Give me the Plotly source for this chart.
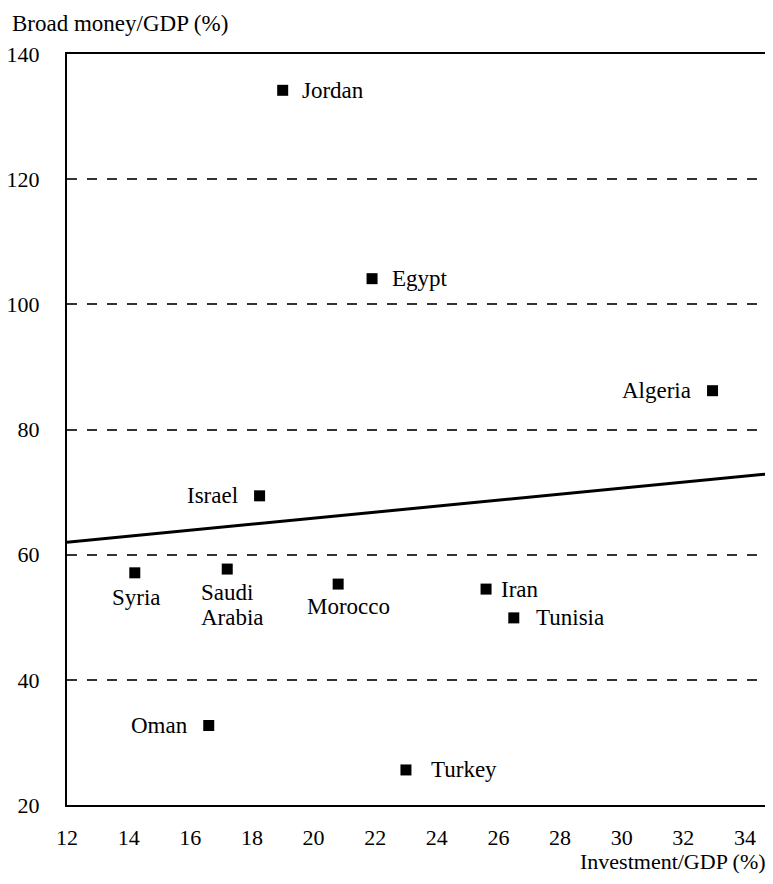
import plotly.graph_objects as go

# ---- data ----
countries = ["Jordan", "Egypt", "Algeria", "Israel", "Syria", "Saudi<br>Arabia",
             "Morocco", "Iran", "Tunisia", "Oman", "Turkey"]
investment_gdp = [19.0, 21.9, 32.95, 18.25, 14.2, 17.2, 20.8, 25.6, 26.5, 16.6, 23.0]
broad_money_gdp = [134.2, 104.1, 86.2, 69.4, 57.1, 57.7, 55.3, 54.5, 49.9, 32.7, 25.6]

fit_x = [12.0, 34.75]
fit_y = [62.0, 72.9]

x_ticks = [12, 14, 16, 18, 20, 22, 24, 26, 28, 30, 32, 34]
y_ticks = [20, 40, 60, 80, 100, 120, 140]

# ---- label placement (style only) ----
label_style = {
    "Jordan": dict(xanchor="left", xshift=18, yshift=0),
    "Egypt": dict(xanchor="left", xshift=19, yshift=0),
    "Algeria": dict(xanchor="right", xshift=-21, yshift=0),
    "Israel": dict(xanchor="right", xshift=-21, yshift=0),
    "Syria": dict(xanchor="center", xshift=2, yshift=-25),
    "Saudi<br>Arabia": dict(xanchor="left", xshift=-27, yshift=-23),
    "Morocco": dict(xanchor="center", xshift=10, yshift=-22),
    "Iran": dict(xanchor="left", xshift=14, yshift=0),
    "Tunisia": dict(xanchor="left", xshift=21, yshift=0),
    "Oman": dict(xanchor="right", xshift=-20, yshift=0),
    "Turkey": dict(xanchor="left", xshift=24, yshift=0),
}
LINE_GAP = 25

FONT = "Liberation Serif, Times New Roman, serif"
FS = 23
fig = go.Figure()

fig.add_trace(go.Scatter(
    x=fit_x, y=fit_y, mode="lines",
    line=dict(color="black", width=3), hoverinfo="skip", showlegend=False))

fig.add_trace(go.Scatter(
    x=investment_gdp, y=broad_money_gdp, mode="markers",
    marker=dict(symbol="square", size=11, color="black"),
    text=countries, showlegend=False))

for c, xv, yv in zip(countries, investment_gdp, broad_money_gdp):
    s = label_style[c]
    for i, line in enumerate(c.split("<br>")):
        fig.add_annotation(x=xv, y=yv, text=line, showarrow=False,
                           xanchor=s["xanchor"], yanchor="middle", align="left",
                           xshift=s["xshift"], yshift=s["yshift"] - i * LINE_GAP,
                           borderpad=0,
                           font=dict(family=FONT, size=FS, color="black"))

fig.add_annotation(xref="paper", yref="paper", x=0, xshift=-57, y=1.0, yshift=31,
                   xanchor="left", yanchor="middle", showarrow=False,
                   text="Broad money/GDP (%)",
                   font=dict(family=FONT, size=FS, color="black"))
fig.add_annotation(xref="paper", yref="paper", x=1.0, xshift=0, y=0, yshift=-56,
                   xanchor="right", yanchor="middle", showarrow=False,
                   text="Investment/GDP (%)",
                   font=dict(family=FONT, size=FS - 1, color="black"))

fig.update_layout(
    width=765, height=868,
    margin=dict(l=59, r=5, t=46, b=71),
    paper_bgcolor="white", plot_bgcolor="white",
    font=dict(family=FONT, size=FS, color="black"),
    showlegend=False,
)
fig.update_xaxes(
    range=[12, 34.75], tickvals=x_ticks, ticktext=[str(v) for v in x_ticks],
    showgrid=False, zeroline=False, automargin=False,
    showline=True, linecolor="black", linewidth=2, mirror=True,
    ticks="", ticklabelstandoff=12, tickfont=dict(size=22),
)
fig.update_yaxes(
    range=[20, 140], tickvals=y_ticks, ticktext=[str(v) for v in y_ticks],
    showgrid=True, gridcolor="#333333", gridwidth=1.5, griddash="10px,10px",
    zeroline=False, automargin=False,
    showline=True, linecolor="black", linewidth=2, mirror=True,
    ticks="", ticklabelstandoff=21, tickfont=dict(size=22),
)

fig.write_html("out.html")
